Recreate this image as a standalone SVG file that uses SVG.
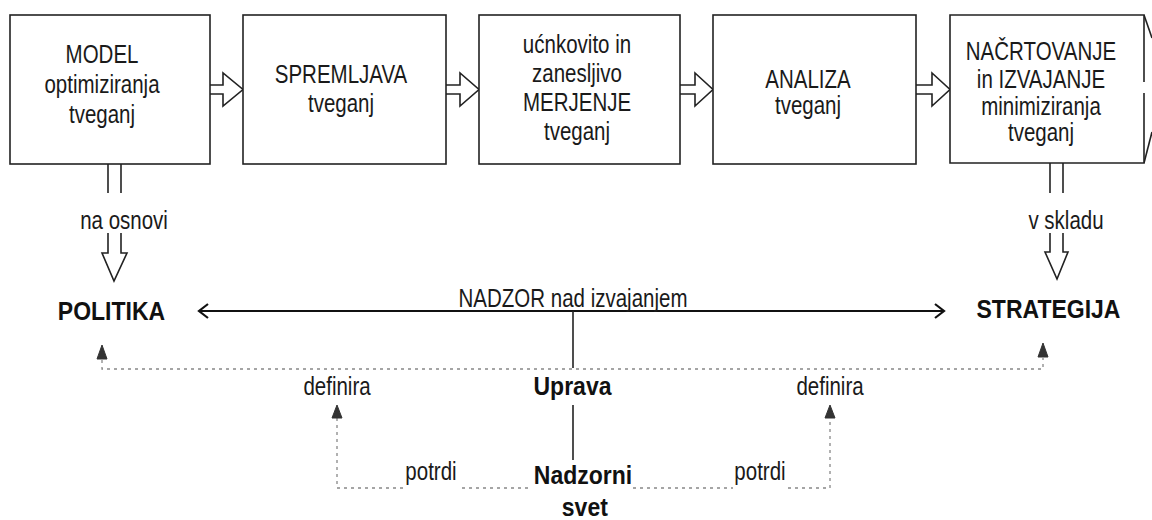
<svg xmlns="http://www.w3.org/2000/svg" width="1152" height="520" viewBox="0 0 1152 520">
<defs>
<style>
.box{fill:#fff;stroke:#222;stroke-width:1.6}
.t{font-family:"Liberation Sans",Arial,sans-serif;font-size:25px;fill:#1a1a1a;text-anchor:middle}
.b{font-family:"Liberation Sans",Arial,sans-serif;font-size:25px;font-weight:bold;fill:#111;text-anchor:middle}
.hol{fill:none;stroke:#222;stroke-width:1.6;stroke-linejoin:miter}
.ln{fill:none;stroke:#222;stroke-width:1.6}
.main{fill:none;stroke:#111;stroke-width:2.2}
.dot{fill:none;stroke:#888;stroke-width:1.3;stroke-dasharray:3 4}
.tri{fill:#333;stroke:#333;stroke-width:1}
</style>
</defs>
<rect width="1152" height="520" fill="#fff"/>

<g id="connectors">
  <!-- hollow arrows between boxes -->
  <polyline class="hol" points="210,85 223,85 223,73 243,89.5 223,106 223,94 210,94"/>
  <polyline class="hol" points="446,85 460,85 460,73 479,89.5 460,106 460,94 446,94"/>
  <polyline class="hol" points="680,85 695,85 695,73 713,89.5 695,106 695,94 680,94"/>
  <polyline class="hol" points="916,85 932,85 932,73 950,89.5 932,106 932,94 916,94"/>
  <!-- right cut-off arrow -->
  <line class="ln" x1="1144" y1="15" x2="1152" y2="38"/>
  <line class="ln" x1="1144" y1="163" x2="1152" y2="132"/>
  <!-- vertical hollow arrows -->
  <line class="ln" x1="108" y1="164" x2="108" y2="193"/>
  <line class="ln" x1="121" y1="164" x2="121" y2="193"/>
  <polyline class="hol" points="108,233 108,253 102,253 114,281 127,253 121,253 121,233"/>
  <line class="ln" x1="1050" y1="163" x2="1050" y2="193"/>
  <line class="ln" x1="1063" y1="163" x2="1063" y2="193"/>
  <polyline class="hol" points="1050,233 1050,252 1045,252 1057,279 1068,252 1063,252 1063,233"/>
  <!-- NADZOR main line -->
  <line class="main" x1="199" y1="311" x2="944" y2="311"/>
  <polyline class="main" points="208,304 199,311 208,318"/>
  <polyline class="main" points="935,304 944,311 935,318"/>
  <line class="ln" x1="573" y1="311" x2="573" y2="368"/>
  <line class="ln" x1="573" y1="405" x2="573" y2="460"/>
  <!-- dotted links -->
  <polyline class="dot" points="102,360 102,369 1043,369 1043,358"/>
  <polygon class="tri" points="102,345 97,359 107,359"/>
  <polygon class="tri" points="1043,343 1038,357 1048,357"/>
  <polyline class="dot" points="337,418 337,488 404,488"/>
  <line class="dot" x1="462" y1="488" x2="532" y2="488"/>
  <polygon class="tri" points="337,405 332,418 342,418"/>
  <line class="dot" x1="633" y1="488" x2="733" y2="488"/>
  <polyline class="dot" points="788,488 830,488 830,418"/>
  <polygon class="tri" points="830,405 825,418 835,418"/>
</g>

<g id="box1">
  <rect class="box" x="10" y="15" width="200" height="149"/>
  <text class="t" transform="translate(102,0) scale(0.82,1)"><tspan x="0" y="63">MODEL</tspan><tspan x="0" y="93">optimiziranja</tspan><tspan x="0" y="123">tveganj</tspan></text>
</g>
<g id="box2">
  <rect class="box" x="243" y="15" width="203" height="149"/>
  <text class="t" transform="translate(341,0) scale(0.82,1)"><tspan x="0" y="83">SPREMLJAVA</tspan><tspan x="0" y="112">tveganj</tspan></text>
</g>
<g id="box3">
  <rect class="box" x="479" y="15" width="201" height="149"/>
  <text class="t" transform="translate(577,0) scale(0.82,1)"><tspan x="0" y="53">ućnkovito in</tspan><tspan x="0" y="82">zanesljivo</tspan><tspan x="0" y="111">MERJENJE</tspan><tspan x="0" y="140">tveganj</tspan></text>
</g>
<g id="box4">
  <rect class="box" x="713" y="15" width="203" height="149"/>
  <text class="t" transform="translate(808,0) scale(0.82,1)"><tspan x="0" y="88">ANALIZA</tspan><tspan x="0" y="114">tveganj</tspan></text>
</g>
<g id="box5">
  <path class="box" d="M1144,82 V15 H950 V163 H1144 V93"/>
  <text class="t" transform="translate(1041,0) scale(0.82,1)"><tspan x="0" y="60">NAČRTOVANJE</tspan><tspan x="0" y="88">in IZVAJANJE</tspan><tspan x="0" y="115">minimiziranja</tspan><tspan x="0" y="141">tveganj</tspan></text>
</g>

<g id="politika">
  <text class="b" transform="translate(111.5,0) scale(0.92,1)" x="0" y="320">POLITIKA</text>
</g>
<g id="strategija">
  <text class="b" transform="translate(1048.5,0) scale(0.92,1)" x="0" y="318">STRATEGIJA</text>
</g>
<g id="uprava">
  <text class="b" transform="translate(572.5,0) scale(0.92,1)" x="0" y="395">Uprava</text>
</g>
<g id="nadzorni-svet">
  <text class="b" transform="translate(583,0) scale(0.92,1)"><tspan x="0" y="484">Nadzorni</tspan><tspan x="2" y="516">svet</tspan></text>
</g>

<g id="labels">
  <text class="t" transform="translate(124,0) scale(0.82,1)" x="0" y="229">na osnovi</text>
  <text class="t" transform="translate(1066,0) scale(0.82,1)" x="0" y="229">v skladu</text>
  <text class="t" transform="translate(573,0) scale(0.82,1)" x="0" y="307">NADZOR nad izvajanjem</text>
  <text class="t" transform="translate(337,0) scale(0.82,1)" x="0" y="395">definira</text>
  <text class="t" transform="translate(830,0) scale(0.82,1)" x="0" y="395">definira</text>
  <text class="t" transform="translate(431,0) scale(0.82,1)" x="0" y="480">potrdi</text>
  <text class="t" transform="translate(760,0) scale(0.82,1)" x="0" y="480">potrdi</text>
</g>
</svg>
